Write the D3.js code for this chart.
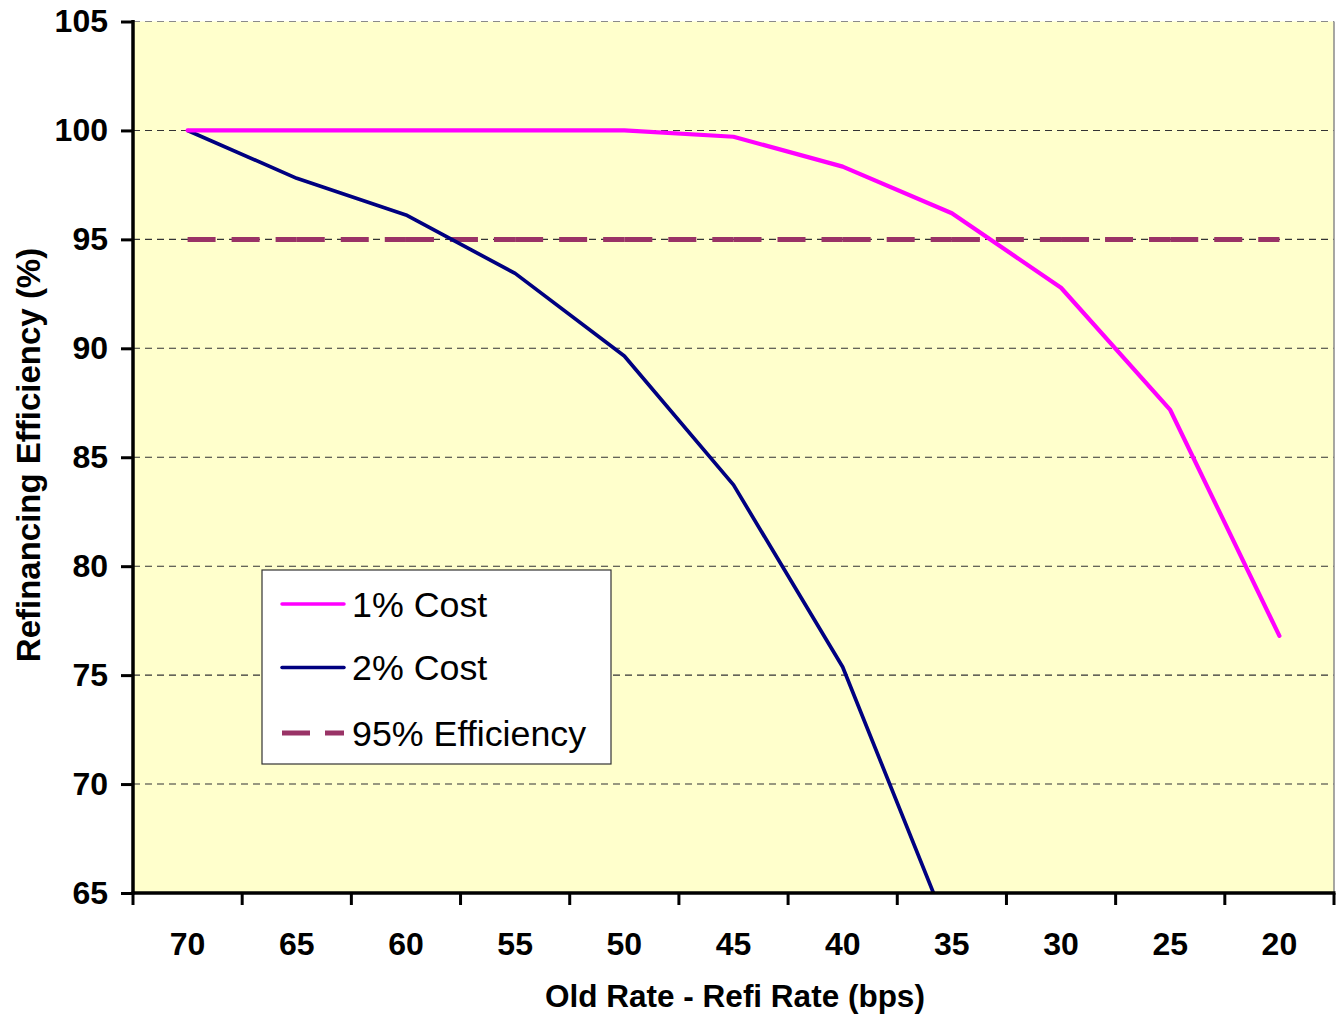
<!DOCTYPE html>
<html>
<head>
<meta charset="utf-8">
<script src="https://cdn.jsdelivr.net/npm/d3@7"></script>
<style>
  html, body { margin: 0; padding: 0; background: #ffffff; }
  svg { display: block; }
  text { font-family: Arial, "Liberation Sans", sans-serif; }
</style>
</head>
<body>
<svg id="chart" width="1342" height="1015"></svg>
<script>
// Rate spread between old loan and refinance rate (bps)
const categories = ["70", "65", "60", "55", "50", "45", "40", "35", "30", "25", "20"];

// Refinancing efficiency (%) by closing cost
const cost1 = [100, 100, 100, 100, 100, 99.71, 98.34, 96.2, 92.78, 87.17, 76.8];
const cost2 = [100, 97.8, 96.12, 93.44, 89.65, 83.73, 75.37, 62.9];
const threshold = [95, 95, 95, 95, 95, 95, 95, 95, 95, 95, 95];

const yTicks = [65, 70, 75, 80, 85, 90, 95, 100, 105];
const gridValues = [70, 75, 80, 85, 90, 95, 100, 105];

const seriesNames = ["1% Cost", "2% Cost", "95% Efficiency"];

const plot = { left: 133, right: 1334, top: 21.5, bottom: 893 };

const svg = d3.select("#chart");

const x = d3.scaleBand().domain(categories).range([plot.left, plot.right]);
const xc = c => x(c) + x.bandwidth() / 2;
const y = d3.scaleLinear().domain([65, 105]).range([plot.bottom, plot.top]);

// Plot background
svg.append("rect")
  .attr("x", plot.left).attr("y", plot.top)
  .attr("width", plot.right - plot.left).attr("height", plot.bottom - plot.top)
  .attr("fill", "#FFFFCC");

svg.append("clipPath").attr("id", "plot-clip")
  .append("rect")
  .attr("x", plot.left).attr("y", plot.top - 3)
  .attr("width", plot.right - plot.left).attr("height", plot.bottom - plot.top + 3);

// Horizontal dashed gridlines
svg.append("g")
  .selectAll("line")
  .data(gridValues)
  .join("line")
  .attr("x1", plot.left).attr("x2", plot.right)
  .attr("y1", d => y(d)).attr("y2", d => y(d))
  .attr("stroke", d => d === 105 ? "#8a8a8a" : "#333333")
  .attr("stroke-width", 1.1)
  .attr("stroke-dasharray", "7,5");

// Right border of plot area
svg.append("line")
  .attr("x1", plot.right).attr("x2", plot.right)
  .attr("y1", plot.top).attr("y2", plot.bottom)
  .attr("stroke", "#8a8a8a").attr("stroke-width", 1.5);

const lines = svg.append("g").attr("clip-path", "url(#plot-clip)");

// 95% efficiency: dash pattern restarts at each category, so draw it segment by segment
const thrSegments = d3.pairs(threshold.map((v, i) => [xc(categories[i]), y(v)]));
lines.append("g")
  .selectAll("line")
  .data(thrSegments)
  .join("line")
  .attr("x1", d => d[0][0]).attr("y1", d => d[0][1])
  .attr("x2", d => d[1][0]).attr("y2", d => d[1][1])
  .attr("stroke", "#993366")
  .attr("stroke-width", 5)
  .attr("stroke-dasharray", "28,16");

const line = d3.line()
  .x((d, i) => xc(categories[i]))
  .y(d => y(d));

lines.append("path")
  .datum(cost2)
  .attr("d", line)
  .attr("fill", "none")
  .attr("stroke", "#000080")
  .attr("stroke-width", 3.7)
  .attr("stroke-linejoin", "round");

lines.append("path")
  .datum(cost1)
  .attr("d", line)
  .attr("fill", "none")
  .attr("stroke", "#FF00FF")
  .attr("stroke-width", 4.2)
  .attr("stroke-linejoin", "round")
  .attr("stroke-linecap", "round");

// Left axis
const yAxis = svg.append("g")
  .attr("transform", `translate(${plot.left},0)`)
  .call(d3.axisLeft(y).tickValues(yTicks).tickSize(12).tickPadding(13));
yAxis.select(".domain").remove();
yAxis.selectAll(".tick line").attr("stroke", "#000").attr("stroke-width", 3);
yAxis.selectAll(".tick text")
  .attr("fill", "#000")
  .style("font-size", "32px")
  .style("font-weight", "bold");
svg.append("line")
  .attr("x1", plot.left).attr("x2", plot.left)
  .attr("y1", plot.top - 1.5).attr("y2", plot.bottom + 1.5)
  .attr("stroke", "#000").attr("stroke-width", 3.5);

// Bottom axis: labels at category centres, ticks at category boundaries
const xAxis = svg.append("g")
  .attr("transform", `translate(0,${plot.bottom})`)
  .call(d3.axisBottom(x).tickSize(0).tickPadding(39));
xAxis.select(".domain").remove();
xAxis.selectAll(".tick text")
  .attr("fill", "#000")
  .style("font-size", "32px")
  .style("font-weight", "bold");

const boundaries = categories.map(c => x(c)).concat([plot.right]);
svg.append("g")
  .selectAll("line")
  .data(boundaries)
  .join("line")
  .attr("x1", d => d).attr("x2", d => d)
  .attr("y1", plot.bottom).attr("y2", plot.bottom + 12)
  .attr("stroke", "#000").attr("stroke-width", 3);
svg.append("line")
  .attr("x1", plot.left - 1.5).attr("x2", plot.right + 1.5)
  .attr("y1", plot.bottom).attr("y2", plot.bottom)
  .attr("stroke", "#000").attr("stroke-width", 3.5);

// Axis titles
svg.append("text")
  .attr("x", 735)
  .attr("y", 1007)
  .attr("text-anchor", "middle")
  .style("font-size", "31.5px")
  .style("font-weight", "bold")
  .text("Old Rate - Refi Rate (bps)");

svg.append("text")
  .attr("transform", `translate(40,455) rotate(-90)`)
  .attr("text-anchor", "middle")
  .style("font-size", "33px")
  .style("font-weight", "bold")
  .text("Refinancing Efficiency (%)");

// Legend
const legend = svg.append("g").attr("transform", "translate(262,570)");
legend.append("rect")
  .attr("width", 349).attr("height", 194)
  .attr("fill", "#ffffff")
  .attr("stroke", "#333").attr("stroke-width", 1.2);

const legendStyles = [
  { color: "#FF00FF", width: 3.5, dash: null },
  { color: "#000080", width: 3.5, dash: null },
  { color: "#993366", width: 5, dash: "28,15" }
];
const rowY = [34, 97.5, 163];

const items = legend.selectAll("g.item")
  .data(seriesNames)
  .join("g")
  .attr("class", "item")
  .attr("transform", (d, i) => `translate(0,${rowY[i]})`);

items.append("line")
  .attr("x1", 20).attr("x2", 82)
  .attr("y1", 0).attr("y2", 0)
  .attr("stroke", (d, i) => legendStyles[i].color)
  .attr("stroke-width", (d, i) => legendStyles[i].width)
  .attr("stroke-linecap", (d, i) => legendStyles[i].dash ? "butt" : "round")
  .attr("stroke-dasharray", (d, i) => legendStyles[i].dash);

items.append("text")
  .attr("x", 90)
  .attr("dy", "0.36em")
  .style("font-size", "35.8px")
  .attr("fill", "#000")
  .text(d => d);
</script>
</body>
</html>
